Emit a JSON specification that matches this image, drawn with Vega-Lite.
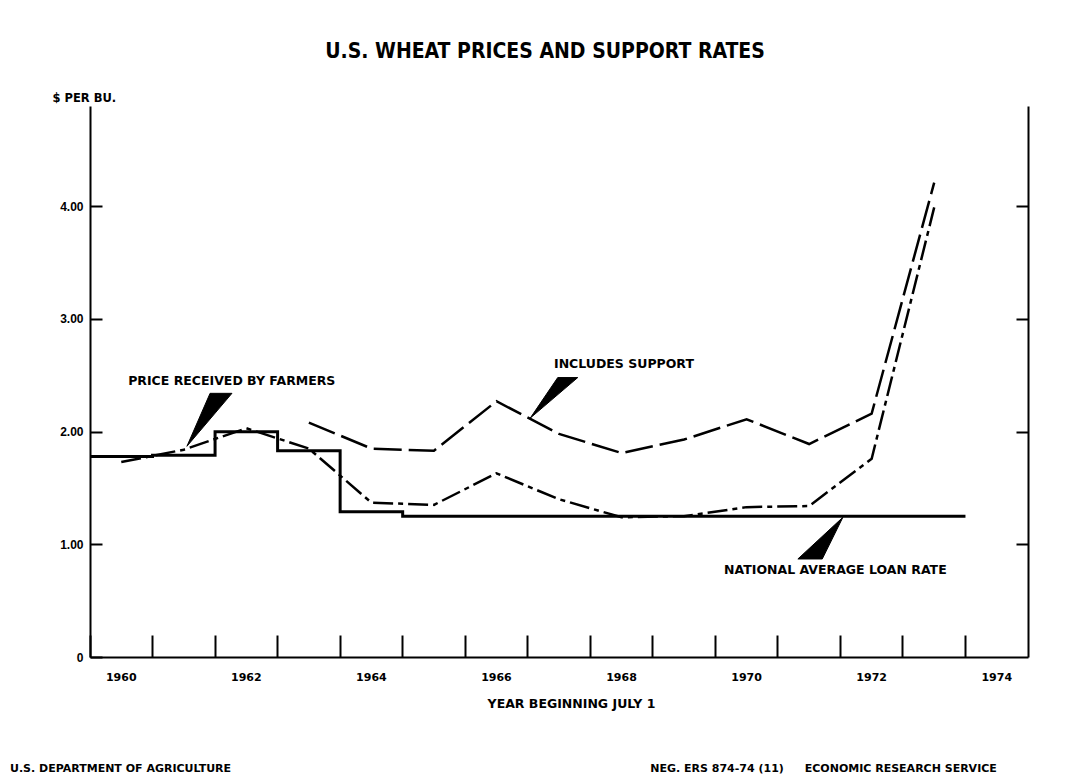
{
  "$schema": "https://vega.github.io/schema/vega-lite/v6.json",
  "width": 938,
  "height": 551,
  "autosize": "none",
  "padding": {"left": 90, "top": 106, "right": 45, "bottom": 126},
  "background": "white",
  "config": {"view": {"stroke": null}, "font": "DejaVu Sans"},
  "title": {
    "text": "U.S. WHEAT PRICES AND SUPPORT RATES",
    "font": "Liberation Sans Narrow, DejaVu Sans Condensed, Liberation Sans",
    "fontSize": 21,
    "fontWeight": "bold",
    "color": "black",
    "anchor": "middle",
    "frame": "group",
    "offset": 30,
    "dx": -14
  },
  "datasets": {
    "prices": [
      {"year": 1960, "received": 1.73, "support": null},
      {"year": 1961, "received": 1.84, "support": null},
      {"year": 1962, "received": 2.03, "support": null},
      {"year": 1963, "received": 1.85, "support": 2.08},
      {"year": 1964, "received": 1.37, "support": 1.85},
      {"year": 1965, "received": 1.35, "support": 1.83},
      {"year": 1966, "received": 1.63, "support": 2.27},
      {"year": 1967, "received": 1.40, "support": 1.98},
      {"year": 1968, "received": 1.24, "support": 1.81},
      {"year": 1969, "received": 1.25, "support": 1.93},
      {"year": 1970, "received": 1.33, "support": 2.11},
      {"year": 1971, "received": 1.34, "support": 1.89},
      {"year": 1972, "received": 1.76, "support": 2.16},
      {"year": 1973, "received": 3.99, "support": 4.21}
    ],
    "loan": [
      {"year": 1960, "rate": 1.78},
      {"year": 1961, "rate": 1.79},
      {"year": 1962, "rate": 2.00},
      {"year": 1963, "rate": 1.83},
      {"year": 1964, "rate": 1.29},
      {"year": 1965, "rate": 1.25},
      {"year": 1966, "rate": 1.25},
      {"year": 1967, "rate": 1.25},
      {"year": 1968, "rate": 1.25},
      {"year": 1969, "rate": 1.25},
      {"year": 1970, "rate": 1.25},
      {"year": 1971, "rate": 1.25},
      {"year": 1972, "rate": 1.25},
      {"year": 1973, "rate": 1.25},
      {"year": 1974, "rate": 1.25}
    ],
    "labels": [
      {"x": 1960.61, "y": 2.45, "t": "PRICE RECEIVED BY FARMERS"},
      {"x": 1967.42, "y": 2.6, "t": "INCLUDES SUPPORT"},
      {"x": 1970.14, "y": 0.77, "t": "NATIONAL AVERAGE LOAN RATE"}
    ],
    "footers": [
      {"x": 1958.72, "y": -0.99, "t": "U.S. DEPARTMENT OF AGRICULTURE"},
      {"x": 1968.96, "y": -0.99, "t": "NEG. ERS 874-74 (11)"},
      {"x": 1971.43, "y": -0.99, "t": "ECONOMIC RESEARCH SERVICE"}
    ],
    "wedges": [
      {"id": "a", "o": 1, "x": 1961.92, "y": 2.34},
      {"id": "a", "o": 2, "x": 1962.27, "y": 2.34},
      {"id": "a", "o": 3, "x": 1961.55, "y": 1.87},
      {"id": "b", "o": 1, "x": 1967.48, "y": 2.48},
      {"id": "b", "o": 2, "x": 1967.8, "y": 2.48},
      {"id": "b", "o": 3, "x": 1967.04, "y": 2.12},
      {"id": "c", "o": 1, "x": 1971.32, "y": 0.87},
      {"id": "c", "o": 2, "x": 1971.71, "y": 0.87},
      {"id": "c", "o": 3, "x": 1972.04, "y": 1.24}
    ]
  },
  "layer": [
    {
      "layer": [
        {
          "data": {"name": "loan"},
          "mark": {"type": "line", "interpolate": "step-after", "color": "black", "strokeWidth": 3},
          "encoding": {
            "x": {
              "field": "year",
              "type": "ordinal",
              "bandPosition": 0,
              "scale": {"type": "band", "domain": [1960,1961,1962,1963,1964,1965,1966,1967,1968,1969,1970,1971,1972,1973,1974], "paddingInner": 0, "paddingOuter": 0},
              "axis": {
                "orient": "bottom",
                "bandPosition": 0,
                "labelAngle": 0,
                "labelExpr": "datum.value % 2 == 0 ? datum.label : ''",
                "labelFont": "DejaVu Sans",
                "labelFontSize": 11,
                "labelFontWeight": "bold",
                "labelColor": "black",
                "labelPadding": 36,
                "tickSize": -22,
                "tickWidth": 2,
                "tickColor": "black",
                "domainColor": "black",
                "domainWidth": 2,
                "grid": false,
                "title": "YEAR BEGINNING JULY 1",
                "titleFont": "DejaVu Sans",
                "titleFontSize": 12.5,
                "titleFontWeight": "bold",
                "titleColor": "black",
                "titleX": 481,
                "titleY": 46,
                "titleAlign": "center",
                "titleBaseline": "middle"
              }
            },
            "y": {
              "field": "rate",
              "type": "quantitative",
              "scale": {"domain": [0, 4.89], "nice": false, "zero": true},
              "axis": {
                "orient": "left",
                "values": [0, 1, 2, 3, 4],
                "labelExpr": "datum.value == 0 ? '0' : format(datum.value, '.2f')",
                "labelFont": "Liberation Sans",
                "labelFontSize": 12,
                "labelFontWeight": "bold",
                "labelColor": "black",
                "labelPadding": 19,
                "tickSize": -12,
                "tickWidth": 2,
                "tickColor": "black",
                "domainColor": "black",
                "domainWidth": 2,
                "grid": false,
                "title": "$ PER BU.",
                "titleAngle": 0,
                "titleFont": "DejaVu Sans",
                "titleFontSize": 11.5,
                "titleFontWeight": "bold",
                "titleColor": "black",
                "titleX": -38,
                "titleY": -8,
                "titleAlign": "left",
                "titleBaseline": "middle"
              }
            }
          }
        },
        {
          "data": {"name": "prices"},
          "mark": {"type": "line", "color": "black", "strokeWidth": 2.5, "strokeDash": [20, 5, 5, 5]},
          "encoding": {
            "x": {"field": "year", "type": "ordinal", "bandPosition": 0.5},
            "y": {"field": "received", "type": "quantitative", "scale": {"domain": [0, 4.89], "nice": false}}
          }
        },
        {
          "data": {"name": "prices"},
          "mark": {"type": "line", "color": "black", "strokeWidth": 2.5, "strokeDash": [28, 7]},
          "encoding": {
            "x": {"field": "year", "type": "ordinal", "bandPosition": 0.5},
            "y": {"field": "support", "type": "quantitative", "scale": {"domain": [0, 4.89], "nice": false}}
          }
        }
      ]
    },
    {
      "layer": [
        {
          "data": {"name": "wedges"},
          "mark": {"type": "line", "fill": "black", "stroke": "black", "strokeWidth": 1, "interpolate": "linear-closed"},
          "encoding": {
            "x": {"field": "x", "type": "quantitative", "scale": {"domain": [1960, 1975], "nice": false, "zero": false}, "axis": null},
            "y": {
              "field": "y",
              "type": "quantitative",
              "scale": {"domain": [0, 4.89], "nice": false},
              "axis": {
                "orient": "right",
                "values": [1, 2, 3, 4],
                "labels": false,
                "tickSize": -12,
                "tickWidth": 2,
                "tickColor": "black",
                "domainColor": "black",
                "domainWidth": 2,
                "grid": false,
                "title": null
              }
            },
            "order": {"field": "o", "type": "quantitative"},
            "detail": {"field": "id", "type": "nominal"}
          }
        },
        {
          "data": {"name": "labels"},
          "mark": {"type": "text", "align": "left", "baseline": "middle", "font": "DejaVu Sans", "fontSize": 12.5, "fontWeight": "bold", "color": "black"},
          "encoding": {
            "x": {"field": "x", "type": "quantitative"},
            "y": {"field": "y", "type": "quantitative"},
            "text": {"field": "t"}
          }
        },
        {
          "data": {"name": "footers"},
          "mark": {"type": "text", "align": "left", "baseline": "middle", "font": "DejaVu Sans", "fontSize": 11, "fontWeight": "bold", "color": "black"},
          "encoding": {
            "x": {"field": "x", "type": "quantitative"},
            "y": {"field": "y", "type": "quantitative"},
            "text": {"field": "t"}
          }
        }
      ]
    }
  ],
  "resolve": {"scale": {"x": "independent"}, "axis": {"x": "independent", "y": "independent"}}
}
